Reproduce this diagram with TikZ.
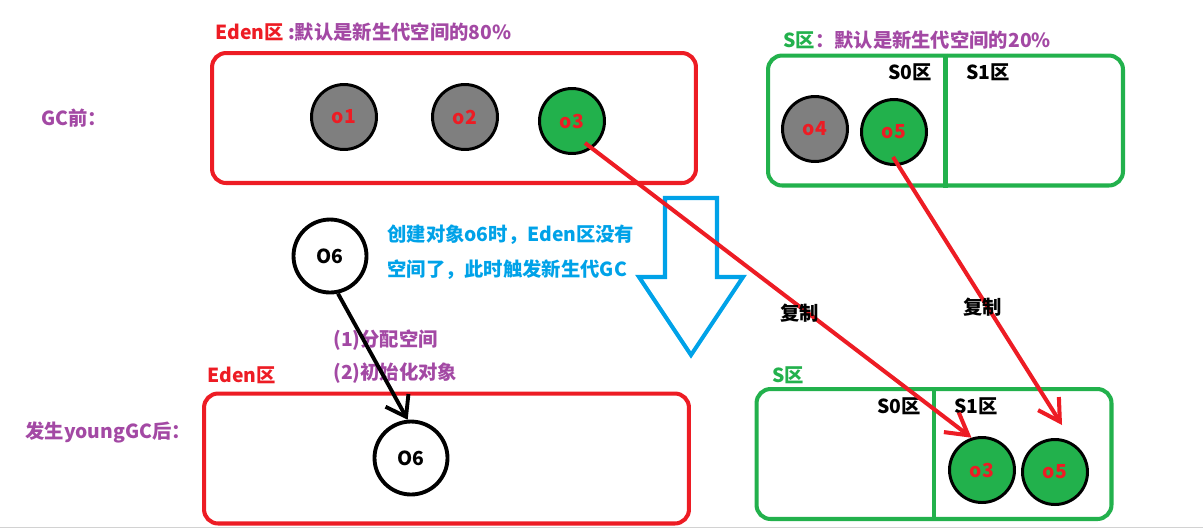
\documentclass[tikz,border=0pt]{standalone}
\usepackage{fontspec}
\setmainfont{Noto Sans CJK SC}
\usetikzlibrary{positioning,arrows.meta}
\definecolor{edenred}{HTML}{ED1C24}
\definecolor{survgreen}{HTML}{22B14C}
\definecolor{objgray}{HTML}{7F7F7F}
\definecolor{notepurple}{HTML}{A349A4}
\definecolor{gcblue}{HTML}{00A2E8}

\begin{document}
\begin{tikzpicture}[
  x=0.02cm, y=-0.02cm,
  font=\fontsize{11}{13}\selectfont\bfseries,
  edenbox/.style={draw=edenred, line width=2.3pt, rounded corners=8pt, minimum height=2.6cm},
  survbox/.style={draw=survgreen, line width=2.3pt, rounded corners=8pt, minimum width=7.1cm, minimum height=2.6cm},
  obj/.style={circle, draw=black, line width=1.7pt, minimum size=1.3cm, inner sep=0pt, text=edenred},
  oldobj/.style={obj, fill=objgray},
  liveobj/.style={obj, fill=survgreen},
  newobj/.style={obj, fill=white, text=black, line width=2.2pt, minimum size=1.46cm},
  lbl/.style={anchor=west, inner sep=0pt},
  copyarr/.style={draw=edenred, line width=2.3pt, -{Straight Barb[angle=60:14pt]}},
  newarr/.style={draw=black, line width=2.2pt, -{Straight Barb[angle=70:13pt]}},
]
\useasboundingbox (0,0) rectangle (1203,529);
\draw[gray!35, line width=0.6pt] (0,527.5) -- (1203,527.5);

% before GC
\node[edenbox, minimum width=9.68cm] (edenTop) at (454,118) {};
\node[survbox] (sTop) at (945.5,120.5) {};
\draw[survgreen, line width=2.3pt] (sTop.north) -- (sTop.south);

\node[lbl] (edenTopLbl) at (215,32) {\textcolor{edenred}{Eden区} \textcolor{notepurple}{:默认是新生代空间的80\%}};
\node[lbl] (sTopLbl) at (783,40) {\textcolor{survgreen}{S区}\textcolor{notepurple}{：默认是新生代空间的20\%}};
\node[lbl, text=notepurple] (gcBefore) at (41,118) {GC前：};
\node[lbl] (s0Top) at (888,72) {S0区};
\node[lbl] (s1Top) at (966,72) {S1区};

\node[oldobj] (o1) at (344,117) {o1};
\node[oldobj] (o2) at (465,117) {o2};
\node[liveobj] (o3) at (572,121) {o3};
\node[oldobj] (o4) at (815,129) {o4};
\node[liveobj] (o5) at (894,132) {o5};

% young GC
\draw[gcblue, line width=2.3pt, miter limit=10]
  (665,198) -- (717,198) -- (717,277) -- (743,277) -- (691,355) -- (639,277) -- (665,277) -- cycle;
\node[lbl, text=gcblue, align=left, font=\fontsize{11}{19.8}\selectfont\bfseries] (gcNote) at (387,252.5)
  {创建对象o6时，Eden区没有\\空间了，此时触发新生代GC};

\node[newobj] (o6) at (330,256) {O6};
\node[lbl, text=notepurple, align=left, font=\fontsize{11}{18.7}\selectfont\bfseries] (allocNote) at (333,356.5)
  {(1)分配空间\\(2)初始化对象};

% after GC
\node[edenbox, minimum width=9.7cm] (edenLow) at (446.5,458.5) {};
\node[survbox] (sLow) at (934,454) {};
\draw[survgreen, line width=2.3pt] (sLow.north) -- (sLow.south);

\node[lbl, text=edenred] (edenLowLbl) at (207,375) {Eden区};
\node[lbl, text=survgreen] (sLowLbl) at (772,375) {S区};
\node[lbl, text=notepurple] (gcAfter) at (25,432) {发生youngGC后：};
\node[lbl] (s0Low) at (877,406) {S0区};
\node[lbl] (s1Low) at (954,406) {S1区};

\node[newobj] (o6new) at (411,458) {O6};
\node[liveobj] (s1o3) at (982,470) {o3};
\node[liveobj] (s1o5) at (1055,472) {o5};

\draw[newarr] (o6.-78) -- (o6new.95);
\draw[copyarr] ([shift={(13,22)}]o3.center) -- (s1o3.108);
\draw[copyarr] ([shift={(-1,25)}]o5.center) -- ([shift={(7,-13)}]s1o5.north);

\node[lbl] (copyA) at (780,313) {复制};
\node[lbl] (copyB) at (963,307) {复制};
\end{tikzpicture}
\end{document}
